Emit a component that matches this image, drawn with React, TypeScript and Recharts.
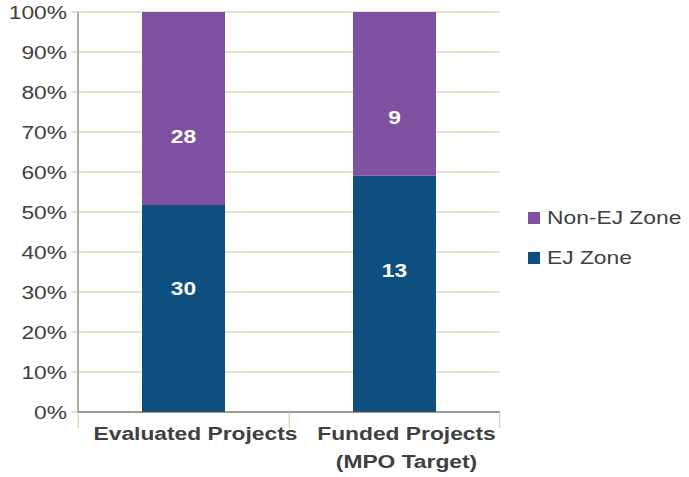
import { BarChart, Bar, XAxis, YAxis, CartesianGrid, LabelList } from 'recharts';

const categories = ['Evaluated Projects', 'Funded Projects\n(MPO Target)'];
const ejZone = [30, 13];
const nonEjZone = [28, 9];
const yTicks = [0, 0.1, 0.2, 0.3, 0.4, 0.5, 0.6, 0.7, 0.8, 0.9, 1];

const EJ_COLOR = '#0f4f7f';
const NON_EJ_COLOR = '#7e51a1';
const GRID = '#c8c89c';
const TEXT = '#404040';
const FONT = '"Liberation Sans", Arial, sans-serif';
const FS = 19;
const SX = 1.2; // reference text is stretched horizontally

const data = categories.map((name, i) => ({ name, ej: ejZone[i], nonEj: nonEjZone[i] }));

const BAND = 210.5;

function CategoryTick(props: any) {
  const { x, y, payload, index } = props;
  const lines = String(payload.value).split('\n');
  return (
    <g>
      <line x1={x - BAND / 2} x2={x - BAND / 2} y1={y - 8} y2={y + 8} stroke={GRID} />
      {index === categories.length - 1 && (
        <line x1={x + BAND / 2} x2={x + BAND / 2} y1={y - 8} y2={y + 8} stroke={GRID} />
      )}
      <g transform={`translate(${x + 12},${y + 20}) scale(${SX},1)`}>
        <text x={0} y={0} textAnchor="middle" fill={TEXT} fontSize={FS} fontWeight="bold" fontFamily={FONT}>
          {lines.map((l, i) => (
            <tspan key={i} x={0} dy={i === 0 ? 0 : 28}>{l}</tspan>
          ))}
        </text>
      </g>
    </g>
  );
}

function PercentTick(props: any) {
  const { x, y, payload } = props;
  return (
    <g transform={`translate(${x - 2},${y}) scale(${SX},1)`}>
      <text x={0} y={0} dy={7} textAnchor="end" fill={TEXT} fontSize={FS} fontFamily={FONT}>
        {`${Math.round(payload.value * 100)}%`}
      </text>
    </g>
  );
}

// labels sit a little off centre in the reference
const makeLabel = (frac: number) => (props: any) => {
  const { x, y, width, height, value } = props;
  const cx = x + width / 2;
  const cy = y + height * frac;
  return (
    <g transform={`translate(${cx},${cy}) scale(${SX},1)`}>
      <text x={0} y={0} dy={7} textAnchor="middle" fill="#fff" fontSize={FS} fontWeight="bold" fontFamily={FONT}>
        {value}
      </text>
    </g>
  );
};

function LegendBox() {
  const items = [
    { label: 'Non-EJ Zone', color: NON_EJ_COLOR },
    { label: 'EJ Zone', color: EJ_COLOR },
  ];
  return (
    <div style={{ position: 'absolute', left: 528, top: 198, fontFamily: FONT }}>
      {items.map((it) => (
        <div key={it.label} style={{ display: 'flex', alignItems: 'center', height: 40, fontSize: FS, color: TEXT }}>
          <span style={{ width: 12, height: 12, background: it.color, display: 'inline-block', marginRight: 7 }} />
          <span style={{ display: 'inline-block', transform: `scaleX(${SX})`, transformOrigin: 'left center', whiteSpace: 'nowrap' }}>
            {it.label}
          </span>
        </div>
      ))}
    </div>
  );
}

export default function App() {
  return (
    <div style={{ position: 'absolute', left: 0, top: 0, width: 689, height: 477, background: '#fff' }}>
      <BarChart
        width={689}
        height={477}
        data={data}
        stackOffset="expand"
        margin={{ top: 12, right: 189, bottom: 0, left: 0 }}
        barSize={83}
      >
        <CartesianGrid vertical={false} stroke={GRID} />
        <XAxis
          dataKey="name"
          height={65}
          axisLine={{ stroke: '#555' }}
          tickLine={false}
          tick={<CategoryTick />}
          interval={0}
        />
        <YAxis
          width={78}
          domain={[0, 1]}
          ticks={yTicks}
          axisLine={{ stroke: '#555' }}
          tickLine={{ stroke: GRID }}
          tickSize={7}
          tick={<PercentTick />}
        />
        <Bar dataKey="ej" name="EJ Zone" stackId="a" fill={EJ_COLOR} isAnimationActive={false}>
          <LabelList dataKey="ej" content={makeLabel(0.4)} />
        </Bar>
        <Bar dataKey="nonEj" name="Non-EJ Zone" stackId="a" fill={NON_EJ_COLOR} isAnimationActive={false}>
          <LabelList dataKey="nonEj" content={makeLabel(0.64)} />
        </Bar>
      </BarChart>
      <LegendBox />
    </div>
  );
}
